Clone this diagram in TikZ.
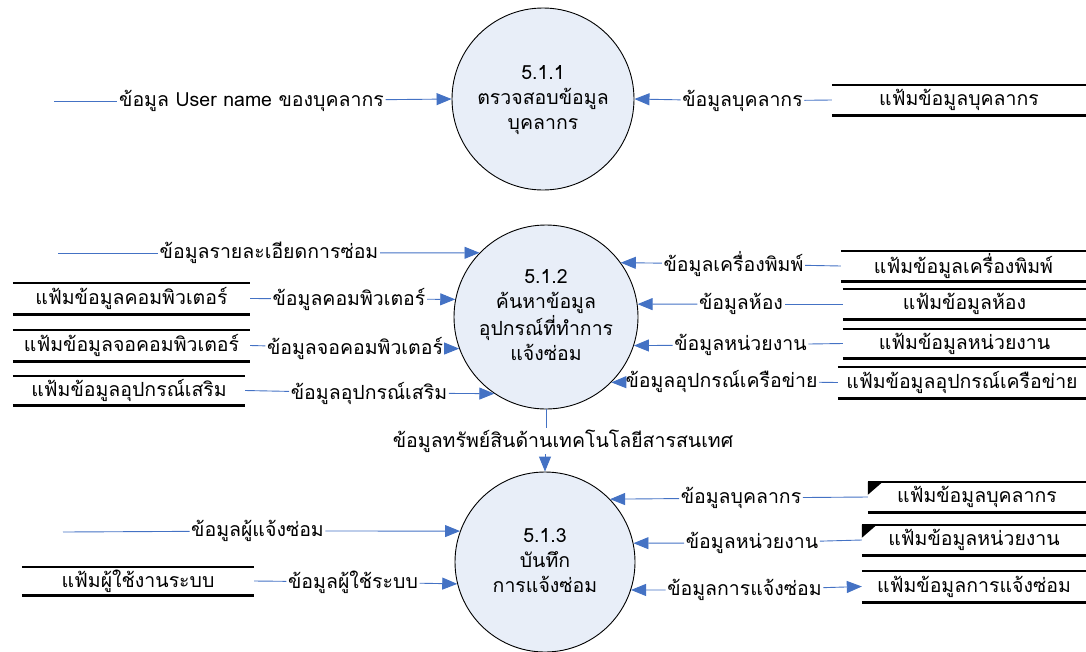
\documentclass[tikz,border=0pt]{standalone}
\usepackage{fontspec}
\setmainfont[Script=Thai]{Loma}
\usetikzlibrary{arrows.meta}

\definecolor{flowblue}{HTML}{4472C4}
\definecolor{procfill}{HTML}{E8EEF8}

% centred stack of lines inside a process bubble, set slightly lower
\newcommand{\proclines}[1]{\raisebox{-4pt}{\begin{tabular}{@{}c@{}}#1\end{tabular}}}

\begin{document}
\begin{tikzpicture}[x=1pt,y=-1pt,
  every node/.style={font=\fontsize{19.5}{25}\selectfont},
  proc/.style={circle, draw=black, line width=0.9pt, fill=procfill,
    align=center, inner sep=0pt, minimum size=#1},
  lbl/.style={inner sep=1.5pt},
  store/.style={inner sep=0pt, minimum height=30},
  storeedge/.style={line width=2.6pt, black},
  flow/.style={draw=flowblue, line width=0.9pt},
  flowto/.style={flow, -{Triangle[length=15pt,width=12pt]}},
  dupmark/.style={fill=black}
]
\useasboundingbox (0,0) rectangle (1086,651);

% processes
\node[proc=182pt] (p1) at (543,99) {\proclines{5.1.1\\ตรวจสอบข้อมูล\\บุคลากร}};
\node[proc=184pt] (p2) at (546,317) {\proclines{5.1.2\\ค้นหาข้อมูล\\อุปกรณ์ที่ทำการ\\แจ้งซ่อม}};
\node[proc=180pt] (p3) at (545,562) {\proclines{5.1.3\\บันทึก\\การแจ้งซ่อม}};

% data stores
\node[store, minimum width=254] (sBk)    at (959,100)    {แฟ้มข้อมูลบุคลากร};
\node[store, minimum width=237, minimum height=31] (sCom) at (131.5,298.5) {แฟ้มข้อมูลคอมพิวเตอร์};
\node[store, minimum width=237, minimum height=31] (sMon) at (131.5,345.5) {แฟ้มข้อมูลจอคอมพิวเตอร์};
\node[store, minimum width=232, minimum height=29] (sAcc) at (129,390.5)   {แฟ้มข้อมูลอุปกรณ์เสริม};
\node[store, minimum width=245] (sPrn)   at (963.5,266)  {แฟ้มข้อมูลเครื่องพิมพ์};
\node[store, minimum width=243] (sRoom)  at (964.5,304)  {แฟ้มข้อมูลห้อง};
\node[store, minimum width=243, minimum height=29] (sUnit) at (964.5,343.5) {แฟ้มข้อมูลหน่วยงาน};
\node[store, minimum width=248, minimum height=31] (sNet) at (962,382.5) {แฟ้มข้อมูลอุปกรณ์เครือข่าย};
\node[store, minimum width=232, minimum height=28] (sUsr) at (138,581) {แฟ้มผู้ใช้งานระบบ};
\node[store, minimum width=218] (sBk2)   at (977,497)    {แฟ้มข้อมูลบุคลากร};
\node[store, minimum width=224] (sUnit2) at (974,540)    {แฟ้มข้อมูลหน่วยงาน};
\node[store, minimum width=224, minimum height=31] (sRep) at (974,586.5) {แฟ้มข้อมูลการแจ้งซ่อม};

\foreach \s in {sBk,sCom,sMon,sAcc,sPrn,sRoom,sUnit,sNet,sUsr,sBk2,sUnit2,sRep}
  \draw[storeedge] (\s.north west) -- (\s.north east)
                   (\s.south west) -- (\s.south east);

% duplicate-store corner marks
\fill[dupmark] (sBk2.north west) -- ++(15,0) -- ++(-15,13) -- cycle;
\fill[dupmark] (sUnit2.north west) -- ++(15,0) -- ++(-15,13) -- cycle;

% free ends of external flows
\coordinate (inUser) at (54,101);
\coordinate (inDet)  at (58,253);
\coordinate (inRep)  at (63,532);

% flow labels
\node[lbl] (lUser)  at (251.5,101) {ข้อมูล User name ของบุคลากร};
\node[lbl] (lBk1)   at (742.5,101) {ข้อมูลบุคลากร};
\node[lbl] (lDet)   at (269,253)   {ข้อมูลรายละเอียดการซ่อม};
\node[lbl] (lCom)   at (349,299)   {ข้อมูลคอมพิวเตอร์};
\node[lbl] (lMon)   at (355,348)   {ข้อมูลจอคอมพิวเตอร์};
\node[lbl] (lAcc)   at (369,393)   {ข้อมูลอุปกรณ์เสริม};
\node[lbl] (lPrn)   at (733.5,264) {ข้อมูลเครื่องพิมพ์};
\node[lbl] (lRoom)  at (741,304)   {ข้อมูลห้อง};
\node[lbl] (lUnit)  at (740.5,345) {ข้อมูลหน่วยงาน};
\node[lbl] (lNet)   at (721.5,381) {ข้อมูลอุปกรณ์เครือข่าย};
\node[lbl] (lIT)    at (563,441)   {ข้อมูลทรัพย์สินด้านเทคโนโลยีสารสนเทศ};
\node[lbl] (lRep)   at (257.5,531) {ข้อมูลผู้แจ้งซ่อม};
\node[lbl] (lUsr2)  at (353,582)   {ข้อมูลผู้ใช้ระบบ};
\node[lbl] (lBk2)   at (741,498)   {ข้อมูลบุคลากร};
\node[lbl] (lUnit2) at (752,543)   {ข้อมูลหน่วยงาน};
\node[lbl] (lRep2)  at (744.5,590) {ข้อมูลการแจ้งซ่อม};

% flows into 5.1.1
\draw[flow]   (inUser) -- (lUser);
\draw[flowto] (lUser) -- (p1.west);
\draw[flow]   (sBk.west) -- (lBk1);
\draw[flowto] (lBk1) -- (p1.east);

% flows into 5.1.2
\draw[flow]   (inDet) -- (lDet);
\draw[flowto] (lDet) -- (p2.136);
\draw[flow]   (sCom.east) -- (lCom);
\draw[flowto] (lCom) -- (p2.169);
\draw[flow]   (sMon.east) -- (lMon);
\draw[flowto] (lMon) -- (p2.200);
\draw[flow]   (sAcc.east) -- (lAcc);
\draw[flowto] (lAcc) -- (p2.236);
\draw[flow]   (sPrn.west) -- (lPrn);
\draw[flowto] (lPrn) -- (p2.36);
\draw[flow]   (sRoom.west) -- (lRoom);
\draw[flowto] (lRoom) -- (p2.8);
\draw[flow]   (sUnit.west) -- (lUnit);
\draw[flowto] (lUnit) -- (p2.342);
\draw[flow]   (sNet.west) -- (lNet);
\draw[flowto] (lNet) -- (p2.315);

% 5.1.2 to 5.1.3, broken by its label
\draw[flow]   (p2.south) -- (p2.south |- lIT.north);
\draw[flowto] (p3.north |- lIT.south) -- (p3.north);

% flows around 5.1.3
\draw[flow]   (inRep) -- (lRep);
\draw[flowto] (lRep) -- (p3.160);
\draw[flow]   (sUsr.east) -- (lUsr2);
\draw[flowto] (lUsr2) -- (p3.194);
\draw[flow]   (sBk2.west) -- (lBk2);
\draw[flowto] (lBk2) -- (p3.44);
\draw[flow]   (sUnit2.west) -- (lUnit2);
\draw[flowto] (lUnit2) -- (p3.12);
\draw[flowto] (lRep2) -- (p3.342);
\draw[flowto] (lRep2) -- (sRep.west);
\end{tikzpicture}
\end{document}
